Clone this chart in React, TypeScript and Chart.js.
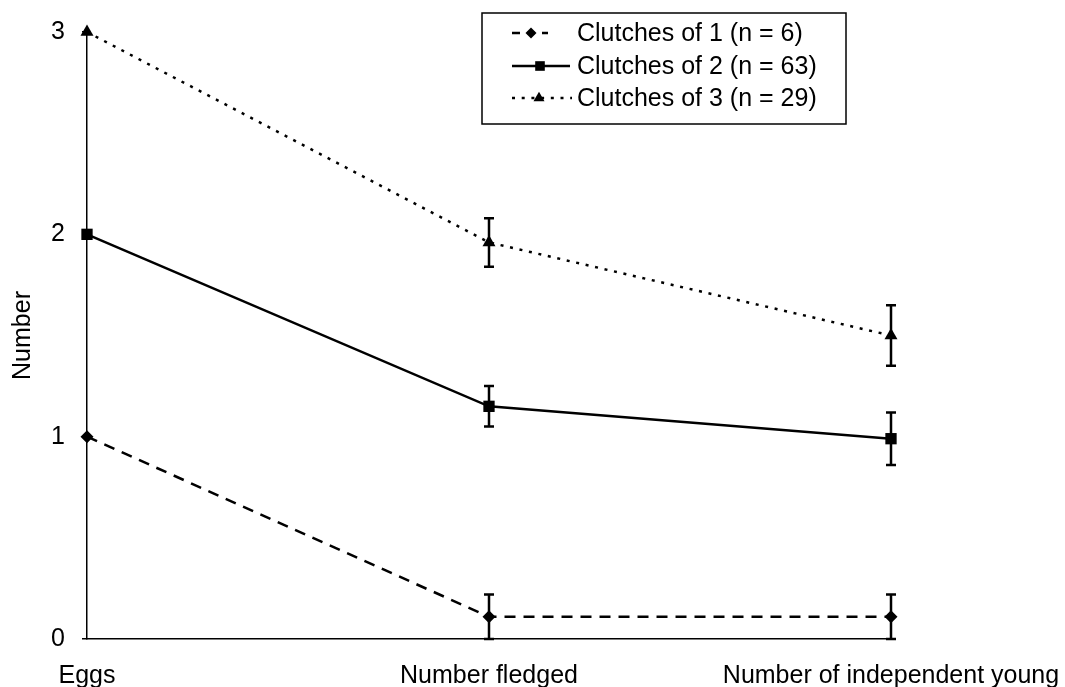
import React, { useEffect, useRef } from 'react';
import { Chart, registerables } from 'chart.js';

Chart.register(...registerables);

const FONT = '"Liberation Sans", Arial, Helvetica, sans-serif';
const FONT_SIZE = 25;

// Categories along the x axis
const categories = ['Eggs', 'Number fledged', 'Number of independent young'];

// Mean values and error half-widths per clutch size
const clutch1Mean = [1, 0.11, 0.11];
const clutch1Err = [0, 0.11, 0.11];
const clutch2Mean = [2, 1.15, 0.99];
const clutch2Err = [0, 0.1, 0.13];
const clutch3Mean = [3, 1.96, 1.5];
const clutch3Err = [0, 0.12, 0.15];

const seriesLabels = ['Clutches of 1 (n = 6)', 'Clutches of 2 (n = 63)', 'Clutches of 3 (n = 29)'];

const yMin = 0;
const yMax = 3;
const yStep = 1;

const dashStyles: number[][] = [[11, 8], [], [3, 6.7]];
const legendDashStyles: number[][] = [[8, 7], [], [3, 6.7]];
const pointStyles = ['rectRot', 'rect', 'triangle'];
const pointRadii = [6.5, 8, 7.5];

// Vertical error bars with caps, drawn beneath the point markers
const errorBarsPlugin = {
  id: 'errorBars',
  beforeDatasetsDraw(chart: any) {
    const { ctx } = chart;
    const yScale = chart.scales.y;
    chart.data.datasets.forEach((ds: any, i: number) => {
      const errs: number[] | undefined = ds.errors;
      if (!errs) return;
      const meta = chart.getDatasetMeta(i);
      meta.data.forEach((pt: any, j: number) => {
        const e = errs[j];
        if (!e) return;
        const v = ds.data[j];
        const top = yScale.getPixelForValue(v + e);
        const bot = yScale.getPixelForValue(v - e);
        ctx.save();
        ctx.strokeStyle = '#000';
        ctx.lineWidth = 2.5;
        ctx.setLineDash([]);
        ctx.beginPath();
        ctx.moveTo(pt.x, top);
        ctx.lineTo(pt.x, bot);
        ctx.moveTo(pt.x - 5, top);
        ctx.lineTo(pt.x + 5, top);
        ctx.moveTo(pt.x - 5, bot);
        ctx.lineTo(pt.x + 5, bot);
        ctx.stroke();
        ctx.restore();
      });
    });
  },
};

function drawMarker(ctx: CanvasRenderingContext2D, style: string, x: number, y: number, r: number) {
  ctx.beginPath();
  if (style === 'rectRot') {
    ctx.moveTo(x, y - r);
    ctx.lineTo(x + r, y);
    ctx.lineTo(x, y + r);
    ctx.lineTo(x - r, y);
  } else if (style === 'rect') {
    const s = r * Math.SQRT1_2;
    ctx.rect(x - s, y - s, 2 * s, 2 * s);
  } else {
    const h = r * 1.5;
    ctx.moveTo(x, y - r);
    ctx.lineTo(x + h / Math.sqrt(3), y + r / 2);
    ctx.lineTo(x - h / Math.sqrt(3), y + r / 2);
  }
  ctx.closePath();
  ctx.fill();
}

// Boxed legend in the upper right of the plot
const boxLegendPlugin = {
  id: 'boxLegend',
  afterDraw(chart: any) {
    const { ctx } = chart;
    const left = 482;
    const top = 13;
    const right = 846;
    const bottom = 124;
    const rows = [33, 66, 98];
    const sampleStart = 512;
    const sampleEnds = [548, 570, 572];
    const markerX = [531, 540, 539];
    ctx.save();
    ctx.strokeStyle = '#000';
    ctx.lineWidth = 1.5;
    ctx.setLineDash([]);
    ctx.strokeRect(left, top, right - left, bottom - top);
    chart.data.datasets.forEach((ds: any, i: number) => {
      const y = rows[i];
      ctx.strokeStyle = '#000';
      ctx.fillStyle = '#000';
      ctx.lineWidth = 2.5;
      ctx.setLineDash(legendDashStyles[i]);
      ctx.beginPath();
      ctx.moveTo(sampleStart, y);
      ctx.lineTo(sampleEnds[i], y);
      ctx.stroke();
      ctx.setLineDash([]);
      drawMarker(ctx, pointStyles[i], markerX[i], y, pointRadii[i] * 0.85);
      ctx.font = `${FONT_SIZE}px ${FONT}`;
      ctx.textAlign = 'left';
      ctx.textBaseline = 'middle';
      ctx.fillText(ds.label, 577, y + 1);
    });
    ctx.restore();
  },
};

export default function App() {
  const canvasRef = useRef<HTMLCanvasElement | null>(null);

  useEffect(() => {
    if (!canvasRef.current) return;
    const means = [clutch1Mean, clutch2Mean, clutch3Mean];
    const errs = [clutch1Err, clutch2Err, clutch3Err];
    const chart = new Chart(canvasRef.current, {
      type: 'line',
      data: {
        labels: categories,
        datasets: means.map((m, i) => ({
          label: seriesLabels[i],
          data: m,
          errors: errs[i],
          borderColor: '#000',
          backgroundColor: '#000',
          pointBackgroundColor: '#000',
          pointBorderColor: '#000',
          pointBorderWidth: 0,
          borderWidth: 2.5,
          borderDash: dashStyles[i],
          pointStyle: pointStyles[i],
          pointRadius: pointRadii[i],
          tension: 0,
          fill: false,
          clip: false,
        })) as any,
      },
      options: {
        responsive: true,
        maintainAspectRatio: false,
        animation: false,
        layout: { padding: { top: 30, right: 174, bottom: 0, left: 0 } },
        plugins: {
          legend: { display: false },
          tooltip: { enabled: false },
        },
        scales: {
          x: {
            type: 'category',
            offset: false,
            grid: { display: true, drawOnChartArea: false, drawTicks: false },
            border: { display: true, color: '#000', width: 1.5 },
            ticks: {
              color: '#000',
              font: { family: FONT, size: FONT_SIZE },
              padding: 22,
              maxRotation: 0,
              autoSkip: false,
            },
            afterFit: (s: any) => {
              s.height = 48;
              s.paddingLeft = 0;
              s.paddingRight = 0;
            },
          },
          y: {
            min: yMin,
            max: yMax,
            ticks: {
              stepSize: yStep,
              color: '#000',
              font: { family: FONT, size: FONT_SIZE },
              padding: 17,
            },
            grid: { drawOnChartArea: false, drawTicks: true, tickLength: 5, color: '#000', lineWidth: 1.5 },
            border: { display: true, color: '#000', width: 1.5 },
            title: {
              display: true,
              text: 'Number',
              color: '#000',
              font: { family: FONT, size: FONT_SIZE },
              padding: { top: 8, bottom: 0 },
            },
            afterFit: (s: any) => {
              s.width = 87;
            },
          },
        },
      } as any,
      plugins: [errorBarsPlugin, boxLegendPlugin],
    });
    return () => chart.destroy();
  }, []);

  return (
    <div style={{ position: 'absolute', left: 0, top: 0, width: 1065, height: 687, background: '#fff' }}>
      <canvas ref={canvasRef} />
    </div>
  );
}
